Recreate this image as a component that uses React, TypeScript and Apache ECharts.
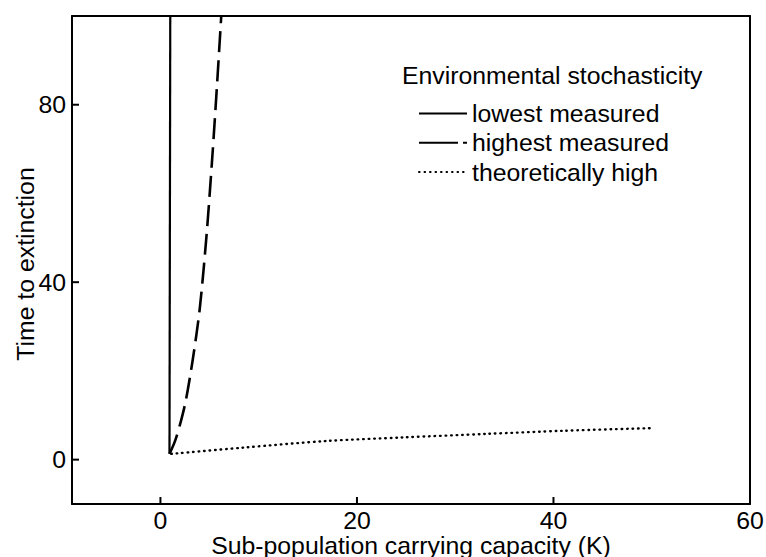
import React, { useEffect, useRef } from "react";
import * as echarts from "echarts";

// Sub-population carrying capacity (K) vs. time to extinction, per scenario
const lowestK = [0.92, 1.0];
const lowestT = [1.3, 100];

const highestK = [0.92, 1.5, 2.1, 2.6, 3.3, 4.0, 4.69, 5.25, 5.74, 6.19];
const highestT = [1.3, 4.3, 8.8, 13.5, 22.7, 34, 50.5, 67.3, 83.8, 100];

const theoK = [1.1, 8.4, 16.9, 24.7, 33.2, 41, 50];
const theoT = [1.3, 2.7, 4.2, 5.0, 5.8, 6.5, 7.1];

const xTicks = [0, 20, 40, 60];
const yTicks = [0, 40, 80];

const seriesNames = ["lowest measured", "highest measured", "theoretically high"];
const legendTitle = "Environmental stochasticity";
const xName = "Sub-population carrying capacity (K)";
const yName = "Time to extinction";

const FONT = "'Liberation Sans', Arial, sans-serif";
const X_MIN = -9;
const X_MAX = 60;
const Y_MIN = -10;
const Y_MAX = 100;
const TICK_LEN = 7;

const pairs = (xs: number[], ys: number[]) => xs.map((x, i) => [x, ys[i]]);

// Short inward tick marks, placed through the axis scales
const tickSeries = (id: string, data: number[][], dx: number, dy: number) => ({
  id,
  name: id,
  type: "custom",
  coordinateSystem: "cartesian2d",
  silent: true,
  clip: false,
  z: 5,
  data,
  encode: { x: 0, y: 1 },
  renderItem: (_params: any, api: any) => {
    const p = api.coord([api.value(0), api.value(1)]);
    return {
      type: "line",
      shape: { x1: p[0], y1: p[1], x2: p[0] + dx, y2: p[1] + dy },
      style: { stroke: "#000", lineWidth: 2 },
    };
  },
});

export default function App() {
  const ref = useRef<HTMLDivElement>(null);

  useEffect(() => {
    if (!ref.current) return;
    const chart = echarts.init(ref.current, undefined, { renderer: "svg" });
    const textBase = { color: "#000", fontFamily: FONT, fontSize: 24.8 };
    const frameLine = { show: true, onZero: false, lineStyle: { color: "#000", width: 2 } };

    chart.setOption({
      animation: false,
      backgroundColor: "#fff",
      title: {
        text: legendTitle,
        left: 402,
        top: 62,
        padding: 0,
        textStyle: { ...textBase, fontWeight: "normal", lineHeight: 26 },
      },
      legend: {
        orient: "vertical",
        left: 418,
        top: 101,
        padding: 0,
        itemWidth: 48,
        itemHeight: 14,
        itemGap: 4.3,
        itemStyle: { opacity: 0 },
        textStyle: { ...textBase, lineHeight: 24 },
        data: [
          { name: seriesNames[0] },
          { name: seriesNames[1], lineStyle: { type: [39, 5] } },
          { name: seriesNames[2] },
        ],
      },
      grid: {
        left: 72,
        right: 16,
        top: 16,
        bottom: 53,
        show: false,
        containLabel: false,
        outerBoundsMode: "none",
      },
      xAxis: [
        {
          type: "value",
          min: X_MIN,
          max: X_MAX,
          name: xName,
          nameLocation: "middle",
          nameGap: 31,
          nameMoveOverlap: false,
          nameTextStyle: { ...textBase, lineHeight: 20 },
          splitLine: { show: false },
          axisLine: frameLine,
          axisTick: { show: false },
          axisLabel: { ...textBase, lineHeight: 20, margin: 6, customValues: xTicks },
        },
        {
          type: "value",
          position: "top",
          min: X_MIN,
          max: X_MAX,
          splitLine: { show: false },
          axisLine: frameLine,
          axisTick: { show: false },
          axisLabel: { show: false },
        },
      ],
      yAxis: [
        {
          type: "value",
          min: Y_MIN,
          max: Y_MAX,
          name: yName,
          nameLocation: "middle",
          nameGap: 34,
          nameMoveOverlap: false,
          nameTextStyle: { ...textBase, color: "#000", padding: [0, 8, 0, 0] },
          splitLine: { show: false },
          axisLine: frameLine,
          axisTick: { show: false },
          axisLabel: { ...textBase, margin: 6, customValues: yTicks },
        },
        {
          type: "value",
          position: "right",
          min: Y_MIN,
          max: Y_MAX,
          splitLine: { show: false },
          axisLine: frameLine,
          axisTick: { show: false },
          axisLabel: { show: false },
        },
      ],
      series: [
        {
          name: seriesNames[0],
          type: "line",
          data: pairs(lowestK, lowestT),
          showSymbol: false,
          symbol: "none",
          color: "#000",
          lineStyle: { color: "#000", width: 2.2, type: "solid" },
        },
        {
          name: seriesNames[1],
          type: "line",
          data: pairs(highestK, highestT),
          showSymbol: false,
          symbol: "none",
          smooth: 0.3,
          color: "#000",
          lineStyle: { color: "#000", width: 2.6, type: [21, 8] },
        },
        {
          name: seriesNames[2],
          type: "line",
          data: pairs(theoK, theoT),
          showSymbol: false,
          symbol: "none",
          smooth: 0.3,
          color: "#000",
          lineStyle: { color: "#000", width: 2.4, type: [0.6, 4.9], cap: "round" },
        },
        tickSeries("xTickMarks", xTicks.map((v) => [v, Y_MIN]), 0, -TICK_LEN),
        tickSeries("yTickMarks", yTicks.map((v) => [X_MIN, v]), TICK_LEN, 0),
      ],
    });

    return () => chart.dispose();
  }, []);

  return (
    <div
      ref={ref}
      style={{ position: "fixed", left: 0, top: 0, width: 766, height: 557, background: "#fff" }}
    />
  );
}
